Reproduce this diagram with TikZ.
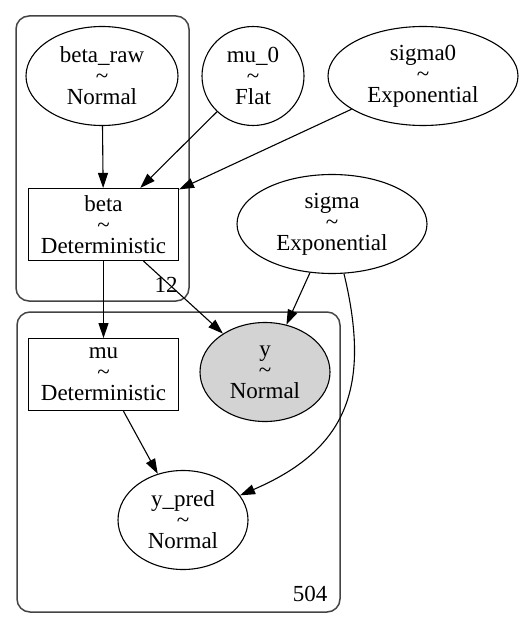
\documentclass[tikz,border=0pt]{standalone}
\usepackage{fontspec}
\setmainfont{Liberation Serif}
\usetikzlibrary{shapes.geometric, arrows.meta, fit, positioning}
\definecolor{obsgray}{RGB}{211,211,211}
\definecolor{platec}{RGB}{68,68,68}

\begin{document}
\begin{tikzpicture}[x=1pt, y=-1pt]

    \useasboundingbox (0,0) rectangle (531,628); % same size as the rendered graph

    % plates first, so that the nodes sit on top of them
    \begin{scope}[every node/.style={draw=platec, line width=1.5pt, rounded corners=13pt, inner sep=0pt}]
        \node (plate12)  [fit={(16,16) (189,301)}] {};
        \node (plate504) [fit={(17,312) (340,612)}] {};
    \end{scope}

    % variables: name, tilde, distribution on three lines
    \begin{scope}[every node/.style={draw, line width=1.1pt, inner sep=0pt, align=center,
                                     font=\rmfamily\fontsize{23}{21}\selectfont},
                  rv/.style={ellipse, minimum width=#1, minimum height=99pt},
                  det/.style={rectangle, minimum width=150pt, minimum height=72pt},
                  obs/.style={fill=obsgray}]

    \node [rv=152pt] (betaraw) at (102,76)  {beta\_raw\\\textasciitilde\\Normal};
    \node [rv=102pt] (mu0)     at (253,76)  {mu\_0\\\textasciitilde\\Flat};
    \node [rv=190pt] (sigma0)  at (423,76)  {sigma0\\\textasciitilde\\Exponential};
    \node [det]      (beta)    at (103.5,224.5) {beta\\\textasciitilde\\Deterministic};
    \node [rv=190pt] (sigma)   at (332,224) {sigma\\\textasciitilde\\Exponential};
    \node [det]      (mu)      [below = 77pt of beta] {mu\\\textasciitilde\\Deterministic};
    \node [rv=130pt, obs] (y)  at (265,372) {y\\\textasciitilde\\Normal};
    \node [rv=130pt] (ypred)   at (183,520) {y\_pred\\\textasciitilde\\Normal};

    \end{scope}

    % plate sizes in the lower right corners
    \begin{scope}[every node/.style={inner sep=0pt, font=\rmfamily\fontsize{23}{21}\selectfont}]
        \node (n12)  at (166,285) {12};
        \node (n504) at (310,594) {504};
    \end{scope}

    \begin{scope}[every path/.style={draw, line width=1.1pt, -{Triangle[length=15pt, width=10pt]}}]

        \foreach \a/\b in {betaraw/beta, mu0/beta, sigma0/beta, beta/mu, beta/y, sigma/y, mu/ypred}
            \draw (\a) -- (\b);
        \draw (sigma) .. controls (372,390) and (345,450) .. (ypred);

    \end{scope}

\end{tikzpicture}
\end{document}
